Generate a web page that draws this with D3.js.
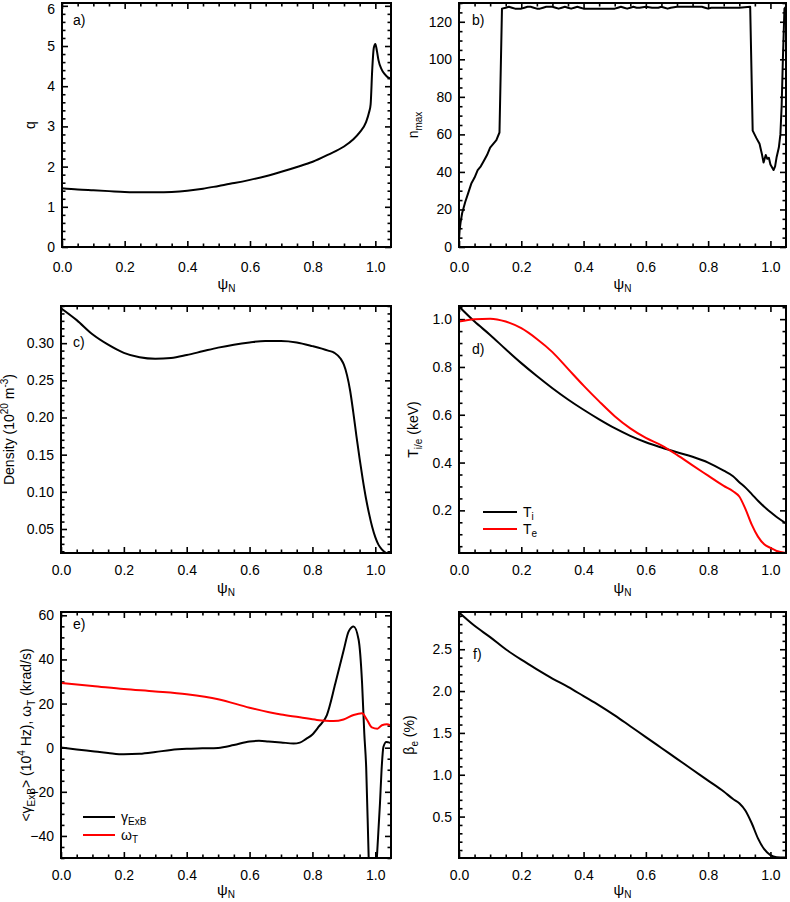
<!DOCTYPE html>
<html><head><meta charset="utf-8">
<script src="https://cdn.jsdelivr.net/npm/d3@7"></script>
<style>
html,body{margin:0;padding:0;background:#fff;}
svg text{font-family:"Liberation Sans",Arial,Helvetica,sans-serif;}
</style></head>
<body><svg id="chart" width="790" height="902"></svg>
<script>
// ---------- DATA ----------
const xTickValues = [0, 0.2, 0.4, 0.6, 0.8, 1.0];

// a) safety factor q
const psiQ = [0, 0.05, 0.1, 0.15, 0.2, 0.25, 0.3, 0.35, 0.4, 0.45, 0.5, 0.55, 0.6, 0.65, 0.7, 0.75, 0.8, 0.85, 0.9, 0.93, 0.95, 0.97, 0.98, 0.985, 0.99, 0.995, 1.0, 1.005, 1.01, 1.02, 1.03, 1.04, 1.05];
const qVals = [1.46, 1.43, 1.41, 1.39, 1.37, 1.36, 1.36, 1.37, 1.40, 1.45, 1.52, 1.59, 1.67, 1.76, 1.87, 1.99, 2.12, 2.30, 2.50, 2.68, 2.85, 3.10, 3.35, 3.55, 4.40, 4.95, 5.05, 4.88, 4.65, 4.42, 4.30, 4.22, 4.19];

// b) n_max
const psiN = [0, 0.002, 0.005, 0.01, 0.02, 0.03, 0.04, 0.05, 0.06, 0.07, 0.08, 0.09, 0.1, 0.11, 0.12, 0.13, 0.138,
  0.15, 0.16, 0.17, 0.18, 0.19, 0.2, 0.21, 0.22, 0.23, 0.24, 0.25, 0.26, 0.27, 0.28, 0.29, 0.3, 0.31, 0.32, 0.33, 0.34, 0.35, 0.36, 0.37, 0.38, 0.39, 0.4,
  0.45, 0.5, 0.51, 0.52, 0.53, 0.54, 0.55, 0.56, 0.57, 0.58, 0.6, 0.62, 0.64, 0.65, 0.66, 0.67, 0.68, 0.7, 0.72, 0.75, 0.78, 0.79, 0.8, 0.81, 0.85, 0.9, 0.935,
  0.943, 0.955, 0.965, 0.972, 0.978, 0.985, 0.99, 0.995, 1.0, 1.01, 1.015, 1.02, 1.027, 1.032, 1.036, 1.04, 1.045, 1.05];
const nMax = [4, 9, 13, 18, 24, 29, 34, 37, 41, 43, 46, 49, 53, 55, 57, 61, 127,
  127.5, 128, 127.5, 127, 127, 127, 127.5, 128, 128, 127.5, 127, 127, 127.5, 128, 128, 128, 127.5, 127, 127.5, 128, 127.5, 127, 127.5, 128, 127.5, 127,
  127, 127, 127.5, 128, 127.5, 127, 127.5, 128, 127.5, 127.5, 128, 127.5, 127.5, 128, 127.5, 127, 127.5, 128, 128, 128, 128, 127.5, 127, 127.5, 127.5, 127.5, 128,
  62, 58, 55, 50, 45, 49, 47, 47.5, 44, 41, 43, 48, 53, 60, 75, 100, 127, 128];

// c) density
const psiD = [0, 0.05, 0.1, 0.15, 0.2, 0.25, 0.3, 0.35, 0.4, 0.45, 0.5, 0.55, 0.6, 0.65, 0.7, 0.75, 0.8, 0.85, 0.87, 0.89, 0.9, 0.91, 0.92, 0.93, 0.94, 0.95, 0.96, 0.97, 0.98, 0.99, 1.0, 1.01, 1.02, 1.03, 1.04, 1.05];
const density = [0.347, 0.331, 0.312, 0.298, 0.287, 0.281, 0.279, 0.280, 0.284, 0.289, 0.294, 0.298, 0.301, 0.303, 0.303, 0.301, 0.296, 0.290, 0.287, 0.279, 0.271, 0.257, 0.236, 0.207, 0.175, 0.145, 0.117, 0.092, 0.071, 0.053, 0.039, 0.029, 0.023, 0.019, 0.017, 0.017];

// d) temperatures
const psiT = [0, 0.05, 0.1, 0.15, 0.2, 0.25, 0.3, 0.35, 0.4, 0.45, 0.5, 0.55, 0.6, 0.65, 0.7, 0.75, 0.8, 0.85, 0.88, 0.9, 0.92, 0.94, 0.96, 0.98, 1.0, 1.02, 1.05];
const Ti = [1.053, 0.990, 0.934, 0.874, 0.816, 0.762, 0.711, 0.664, 0.621, 0.581, 0.544, 0.512, 0.485, 0.463, 0.443, 0.424, 0.400, 0.366, 0.343, 0.318, 0.295, 0.268, 0.240, 0.215, 0.193, 0.172, 0.145];
const Te = [0.990, 1.000, 1.002, 0.990, 0.962, 0.917, 0.862, 0.792, 0.722, 0.656, 0.594, 0.543, 0.503, 0.472, 0.432, 0.388, 0.345, 0.302, 0.280, 0.258, 0.205, 0.140, 0.090, 0.058, 0.043, 0.030, 0.022];

// e) ExB shearing rate and omega_T
const psiE = [0, 0.05, 0.1, 0.15, 0.2, 0.25, 0.3, 0.35, 0.4, 0.45, 0.5, 0.55, 0.6, 0.63, 0.66, 0.7, 0.74, 0.76, 0.78, 0.8, 0.82, 0.846, 0.873, 0.9, 0.915, 0.931, 0.947, 0.958, 0.965, 0.971, 0.979, 0.985, 0.992, 0.998, 1.005, 1.015, 1.02, 1.026, 1.035, 1.042, 1.05];
const gammaExB = [0.1, -0.8, -1.6, -2.4, -3.0, -2.8, -2.0, -1.0, -0.5, -0.3, -0.1, 1.2, 2.8, 3.1, 2.8, 2.4, 1.9, 2.3, 4.0, 6.0, 9.5, 14.8, 29.2, 44.5, 52.6, 54.9, 48.9, 29.2, 6.5, -8.7, -50, -75, -85, -70, -50, -25, -10, 0.4, 2.6, 2.4, 2.0];
const psiW = [0, 0.1, 0.2, 0.3, 0.4, 0.5, 0.6, 0.7, 0.76, 0.814, 0.867, 0.899, 0.931, 0.958, 0.973, 0.989, 1.007, 1.021, 1.037, 1.05];
const omegaT = [29.3, 28.0, 26.6, 25.5, 24.2, 22.0, 18.1, 15.0, 13.8, 12.6, 12.1, 12.8, 14.8, 15.6, 12.8, 9.2, 8.6, 10.2, 10.6, 10.0];

// f) beta_e
const psiB = [0, 0.05, 0.1, 0.15, 0.2, 0.25, 0.3, 0.35, 0.4, 0.45, 0.5, 0.55, 0.6, 0.65, 0.7, 0.75, 0.8, 0.85, 0.88, 0.9, 0.92, 0.94, 0.96, 0.98, 1.0, 1.02, 1.05];
const betaE = [2.94, 2.78, 2.645, 2.50, 2.375, 2.26, 2.15, 2.05, 1.94, 1.83, 1.71, 1.58, 1.45, 1.32, 1.19, 1.06, 0.93, 0.80, 0.71, 0.66, 0.57, 0.42, 0.24, 0.11, 0.04, 0.015, 0.01];

// ---------- DRAWING ----------
const svg = d3.select('#chart');
const FONT = 14;
const xMinorValues = d3.range(0, 21).map(i => +(i * 0.05).toFixed(2)).filter(v => Math.abs(v * 5 - Math.round(v * 5)) > 1e-6);

let clipId = 0;
function panel(p) {
  const x = d3.scaleLinear().domain([0, 1.05]).range([p.l, p.r]);
  const y = d3.scaleLinear().domain(p.yDomain).range([p.b, p.t]);
  const g = svg.append('g');
  const yMinor = p.yMinor.filter(v => !p.yTicks.some(t => Math.abs(t - v) < 1e-9) && v >= p.yDomain[0] - 1e-9 && v <= p.yDomain[1] + 1e-9);

  const styleAxis = sel => {
    sel.select('.domain').remove();
    sel.selectAll('line').attr('stroke', '#000').attr('stroke-width', 1.6);
    sel.selectAll('text').attr('font-size', FONT).attr('fill', '#000').attr('font-family', '"Liberation Sans",Arial,sans-serif');
  };
  // bottom
  g.append('g').attr('transform', `translate(0,${p.b})`)
    .call(d3.axisBottom(x).tickValues(xTickValues).tickFormat(d3.format('.1f')).tickSize(-6).tickSizeOuter(0).tickPadding(p.xPad)).call(styleAxis);
  g.append('g').attr('transform', `translate(0,${p.b})`)
    .call(d3.axisBottom(x).tickValues(xMinorValues).tickFormat('').tickSize(-3.5).tickSizeOuter(0)).call(styleAxis);
  // top
  g.append('g').attr('transform', `translate(0,${p.t})`)
    .call(d3.axisTop(x).tickValues(xTickValues).tickFormat('').tickSize(-6).tickSizeOuter(0)).call(styleAxis);
  g.append('g').attr('transform', `translate(0,${p.t})`)
    .call(d3.axisTop(x).tickValues(xMinorValues).tickFormat('').tickSize(-3.5).tickSizeOuter(0)).call(styleAxis);
  // left
  const leftAx = g.append('g').attr('transform', `translate(${p.l},0)`)
    .call(d3.axisLeft(y).tickValues(p.yTicks).tickFormat(p.yFormat).tickSize(-6).tickSizeOuter(0).tickPadding(7)).call(styleAxis);
  // keep a label that sits right at the top edge fully inside the picture
  leftAx.selectAll('.tick text').each(function(d) {
    if (y(d) < 9) d3.select(this).attr('y', 9 - y(d));
  });
  g.append('g').attr('transform', `translate(${p.l},0)`)
    .call(d3.axisLeft(y).tickValues(yMinor).tickFormat('').tickSize(-3.5).tickSizeOuter(0)).call(styleAxis);
  // right
  g.append('g').attr('transform', `translate(${p.r},0)`)
    .call(d3.axisRight(y).tickValues(p.yTicks).tickFormat('').tickSize(-6).tickSizeOuter(0)).call(styleAxis);
  g.append('g').attr('transform', `translate(${p.r},0)`)
    .call(d3.axisRight(y).tickValues(yMinor).tickFormat('').tickSize(-3.5).tickSizeOuter(0)).call(styleAxis);

  // clip
  const cid = 'clip' + (clipId++);
  svg.append('clipPath').attr('id', cid).append('rect')
    .attr('x', p.l).attr('y', p.t).attr('width', p.r - p.l).attr('height', p.b - p.t);
  const cg = g.append('g').attr('clip-path', `url(#${cid})`);
  p.series.forEach(s => {
    const pts = s.x.map((v, i) => [v, s.y[i]]);
    const line = d3.line().x(d => x(d[0])).y(d => y(d[1])).curve(s.curve || d3.curveMonotoneX);
    cg.append('path').attr('d', line(pts)).attr('fill', 'none').attr('stroke', s.color)
      .attr('stroke-width', 2).attr('stroke-linejoin', 'round');
  });

  // frame
  g.append('rect').attr('x', p.l).attr('y', p.t).attr('width', p.r - p.l).attr('height', p.b - p.t)
    .attr('fill', 'none').attr('stroke', '#000').attr('stroke-width', 2);

  // x label psi_N
  const xl = g.append('text').attr('x', (p.l + p.r) / 2).attr('y', p.xlabY).attr('text-anchor', 'middle').attr('font-size', 15);
  xl.append('tspan').text('ψ');
  xl.append('tspan').attr('font-size', 10).attr('dy', 3).text('N');

  // panel letter
  g.append('text').attr('x', p.letterX).attr('y', p.letterY).attr('font-size', FONT).text(p.letter);

  // y label
  const yl = g.append('text').attr('transform', `translate(${p.ylabX},${(p.t + p.b) / 2}) rotate(-90)`)
    .attr('text-anchor', 'middle').attr('font-size', FONT);
  p.ylab.forEach(part => {
    const t = yl.append('tspan').text(part.t);
    if (part.sub) t.attr('font-size', 10).attr('dy', 4);
    if (part.sup) t.attr('font-size', 10).attr('dy', -6);
    if (part.back) t.attr('dy', part.back);
  });

  if (p.legend) {
    p.legend.forEach(L => {
      g.append('line').attr('x1', L.x1).attr('x2', L.x2).attr('y1', L.y).attr('y2', L.y)
        .attr('stroke', L.color).attr('stroke-width', 2);
      const t = g.append('text').attr('x', L.x2 + 6).attr('y', L.y + 5).attr('font-size', FONT);
      t.append('tspan').text(L.main);
      t.append('tspan').attr('font-size', 10).attr('dy', 3).text(L.sub);
    });
  }
}

// a
panel({l: 62, r: 391, t: 3, b: 247, yDomain: [0, 6.07], yTicks: d3.range(0, 7), yMinor: d3.range(0, 6.01, 0.2).map(v => +v.toFixed(2)),
  yFormat: d3.format('d'), letter: 'a)', letterX: 73, letterY: 25, ylabX: 35, xPad: 15, xlabY: 289,
  ylab: [{t: 'q'}],
  series: [{x: psiQ, y: qVals, color: '#000'}]});
// b
panel({l: 459, r: 786, t: 3, b: 247, yDomain: [0, 130], yTicks: d3.range(0, 121, 20), yMinor: d3.range(0, 131, 5),
  yFormat: d3.format('d'), letter: 'b)', letterX: 472, letterY: 25, ylabX: 418, xPad: 15, xlabY: 289,
  ylab: [{t: 'n'}, {t: 'max', sub: true}],
  series: [{x: psiN, y: nMax, color: '#000', curve: d3.curveLinear}]});
// c
panel({l: 61, r: 391, t: 306, b: 553, yDomain: [0.0177, 0.35], yTicks: [0.05, 0.10, 0.15, 0.20, 0.25, 0.30], yMinor: d3.range(0.02, 0.351, 0.01).map(v => +v.toFixed(2)),
  yFormat: d3.format('.2f'), letter: 'c)', letterX: 73, letterY: 347, ylabX: 14, xPad: 12, xlabY: 593,
  ylab: [{t: 'Density (10'}, {t: '20', sup: true}, {t: ' m', back: 6}, {t: '-3', sup: true}, {t: ')', back: 6}],
  series: [{x: psiD, y: density, color: '#000'}]});
// d
panel({l: 459, r: 786, t: 306, b: 553, yDomain: [0.0216, 1.055], yTicks: [0.2, 0.4, 0.6, 0.8, 1.0], yMinor: d3.range(0.05, 1.06, 0.05).map(v => +v.toFixed(2)),
  yFormat: d3.format('.1f'), letter: 'd)', letterX: 472, letterY: 354, ylabX: 418, xPad: 12, xlabY: 593,
  ylab: [{t: 'T'}, {t: 'i/e', sub: true}, {t: ' (keV)', back: -4}],
  series: [{x: psiT, y: Ti, color: '#000'}, {x: psiT, y: Te, color: '#ff0000'}],
  legend: [{x1: 483, x2: 517, y: 512, color: '#000', main: 'T', sub: 'i'}, {x1: 483, x2: 517, y: 529, color: '#ff0000', main: 'T', sub: 'e'}]});
// e
panel({l: 61, r: 391, t: 612, b: 858, yDomain: [-50, 61.5], yTicks: [-40, -20, 0, 20, 40, 60], yMinor: d3.range(-50, 61, 5),
  yFormat: d3.format('d'), letter: 'e)', letterX: 73, letterY: 629, ylabX: 31, xPad: 12, xlabY: 895,
  ylab: [{t: '<γ'}, {t: 'ExB', sub: true}, {t: '> (10', back: -4}, {t: '4', sup: true}, {t: ' Hz), ω', back: 6}, {t: 'T', sub: true}, {t: '  (krad/s)', back: -4}],
  series: [{x: psiE, y: gammaExB, color: '#000'}, {x: psiW, y: omegaT, color: '#ff0000'}],
  legend: [{x1: 83, x2: 115, y: 817, color: '#000', main: 'γ', sub: 'ExB'}, {x1: 83, x2: 115, y: 835, color: '#ff0000', main: 'ω', sub: 'T'}]});
// f
panel({l: 459, r: 786, t: 612, b: 858, yDomain: [0.005, 2.945], yTicks: [0.5, 1.0, 1.5, 2.0, 2.5], yMinor: d3.range(0.1, 2.95, 0.1).map(v => +v.toFixed(2)),
  yFormat: d3.format('.1f'), letter: 'f)', letterX: 473, letterY: 659, ylabX: 414, xPad: 12, xlabY: 895,
  ylab: [{t: 'β'}, {t: 'e', sub: true}, {t: ' (%)', back: -4}],
  series: [{x: psiB, y: betaE, color: '#000'}]});
</script></body></html>
